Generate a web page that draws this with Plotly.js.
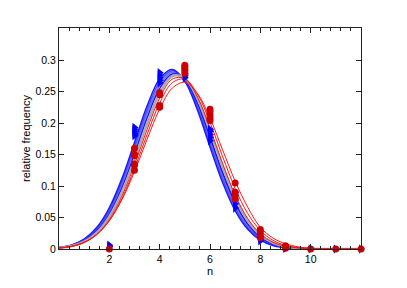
<!DOCTYPE html>
<html>
<head>
<meta charset="utf-8">
<script src="https://cdn.plot.ly/plotly-3.0.1.min.js"></script>
<style>html,body{margin:0;padding:0;background:#fff;}#chart{width:407px;height:288px;}</style>
</head>
<body>
<div id="chart"></div>
<script>
// x grid for curves
var xGrid = [0,0.5,1,1.5,2,2.5,3,3.5,4,4.5,5,5.5,6,6.5,7,7.5,8,8.5,9,9.5,10,10.5,11,11.5,12];

// blue fitted curves
var blue1 = [0.0023,0.0064,0.0156,0.0340,0.0655,0.1118,0.1693,0.2271,0.2702,0.2849,0.2663,0.2207,0.1621,0.1055,0.0609,0.0312,0.0141,0.0057,0.0020,0.0006,0.0002,0,0,0,0];
var blue2 = [0.0022,0.0061,0.0149,0.0323,0.0625,0.1073,0.1634,0.2210,0.2654,0.2830,0.2679,0.2252,0.1681,0.1114,0.0655,0.0342,0.0159,0.0065,0.0024,0.0008,0.0002,0.0001,0,0,0];
var blue3 = [0.0021,0.0058,0.0141,0.0308,0.0597,0.1029,0.1576,0.2148,0.2604,0.2807,0.2691,0.2294,0.1739,0.1173,0.0703,0.0375,0.0178,0.0075,0.0028,0.0009,0.0003,0.0001,0,0,0];
var blue4 = [0.0019,0.0052,0.0129,0.0285,0.0558,0.0972,0.1507,0.2079,0.2550,0.2781,0.2697,0.2327,0.1785,0.1218,0.0739,0.0399,0.0191,0.0082,0.0031,0.0010,0.0003,0.0001,0,0,0];

// gray curve
var gray1 = [0.0017,0.0047,0.0117,0.0259,0.0513,0.0904,0.1419,0.1985,0.2473,0.2744,0.2713,0.2389,0.1874,0.1309,0.0815,0.0452,0.0223,0.0098,0.0038,0.0013,0.0004,0.0001,0,0,0];

// red fitted curves
var red1 = [0.0014,0.0041,0.0104,0.0234,0.0470,0.0840,0.1338,0.1898,0.2397,0.2698,0.2704,0.2414,0.1920,0.1360,0.0858,0.0482,0.0241,0.0108,0.0043,0.0015,0.0005,0.0001,0,0,0];
var red2 = [0.0015,0.0041,0.0102,0.0227,0.0451,0.0803,0.1277,0.1818,0.2317,0.2641,0.2695,0.2460,0.2010,0.1469,0.0961,0.0563,0.0295,0.0138,0.0058,0.0022,0.0007,0.0002,0.0001,0,0];
var red3 = [0.0017,0.0045,0.0108,0.0232,0.0449,0.0783,0.1230,0.1742,0.2222,0.2555,0.2647,0.2471,0.2079,0.1576,0.1077,0.0663,0.0345,0.0175,0.0083,0.0034,0.0012,0.0004,0.0001,0,0];

// observed relative frequencies (blue triangles)
var xBlueObs = [2,2, 3,3,3,3,3, 4,4,4,4,4, 5,5,5, 6,6,6,6,6, 7,7,7,7,7, 8,8,8, 9,9, 10,11,12];
var yBlueObs = [0.004,0.006, 0.180,0.183,0.187,0.190,0.193, 0.264,0.268,0.272,0.276,0.280, 0.272,0.275,0.278, 0.172,0.177,0.182,0.187,0.190, 0.065,0.072,0.078,0.085,0.090, 0.013,0.016,0.020, 0.001,0.002, 0,0,0];

// observed relative frequencies (red circles)
var xRedObs = [2, 3,3,3,3,3,3, 4,4,4,4, 5,5,5,5,5, 6,6,6,6,6, 7,7,7,7, 8,8,8,8, 9,9,9, 10,11,12];
var yRedObs = [0, 0.160,0.150,0.148,0.135,0.133,0.125, 0.248,0.245,0.228,0.225, 0.292,0.289,0.286,0.283,0.279, 0.222,0.218,0.213,0.208,0.204, 0.105,0.090,0.085,0.080, 0.031,0.027,0.022,0.018, 0.005,0.003,0.001, 0,0,0];

var xTicks = [2,4,6,8,10];
var yTicks = [0,0.05,0.1,0.15,0.2,0.25,0.3];
var yTickText = ['0','0.05','0.1','0.15','0.2','0.25','0.3'];

function curve(y, color, w) {
  return {x: xGrid, y: y, type: 'scatter', mode: 'lines',
          line: {color: color, width: w, shape: 'spline', smoothing: 1},
          hoverinfo: 'skip', showlegend: false, cliponaxis: true};
}

var traces = [
  curve(blue1, 'rgba(0,0,255,0.9)', 1.5),
  curve(blue2, 'rgba(30,30,255,0.8)', 1.5),
  curve(blue3, 'rgba(60,60,255,0.75)', 1.5),
  curve(blue4, 'rgba(0,0,255,0.9)', 1.5),
  curve(gray1, 'rgb(170,170,175)', 2.5),
  curve(red1, 'rgb(255,20,20)', 1),
  curve(red2, 'rgb(255,20,20)', 1),
  curve(red3, 'rgb(255,20,20)', 1),
  {x: xBlueObs, y: yBlueObs, type: 'scatter', mode: 'markers',
   marker: {symbol: 'triangle-right', size: 8, color: 'rgb(0,0,255)'},
   cliponaxis: false, showlegend: false},
  {x: xRedObs, y: yRedObs, type: 'scatter', mode: 'markers',
   marker: {symbol: 'circle', size: 7, color: 'rgb(204,0,0)'},
   cliponaxis: false, showlegend: false}
];

var axisCommon = {
  showline: true, linecolor: '#222', linewidth: 1, mirror: 'ticks',
  ticks: 'inside', ticklen: 5, tickcolor: '#222', showgrid: false, zeroline: false,
  automargin: true,
  tickfont: {family: 'Liberation Sans, Arial, sans-serif', size: 10.5, color: '#000'}
};

var layout = {
  width: 407, height: 288,
  margin: {l: 59, r: 46, t: 28, b: 39},
  paper_bgcolor: '#fff', plot_bgcolor: '#fff',
  showlegend: false,
  xaxis: Object.assign({}, axisCommon, {
    range: [0, 12], tickmode: 'array', tickvals: xTicks,
    minor: {dtick: 0.4, tick0: 0, ticks: 'inside', ticklen: 3, tickcolor: '#222'},
    title: {text: 'n', standoff: 1, font: {family: 'Liberation Sans, Arial, sans-serif', size: 11, color: '#000'}}
  }),
  yaxis: Object.assign({}, axisCommon, {
    range: [0, 0.351], tickmode: 'array', tickvals: yTicks, ticktext: yTickText,
    title: {text: 'relative frequency', standoff: 2, font: {family: 'Liberation Sans, Arial, sans-serif', size: 11, color: '#000'}}
  })
};

Plotly.newPlot('chart', traces, layout, {displayModeBar: false, staticPlot: true});
</script>
</body>
</html>
